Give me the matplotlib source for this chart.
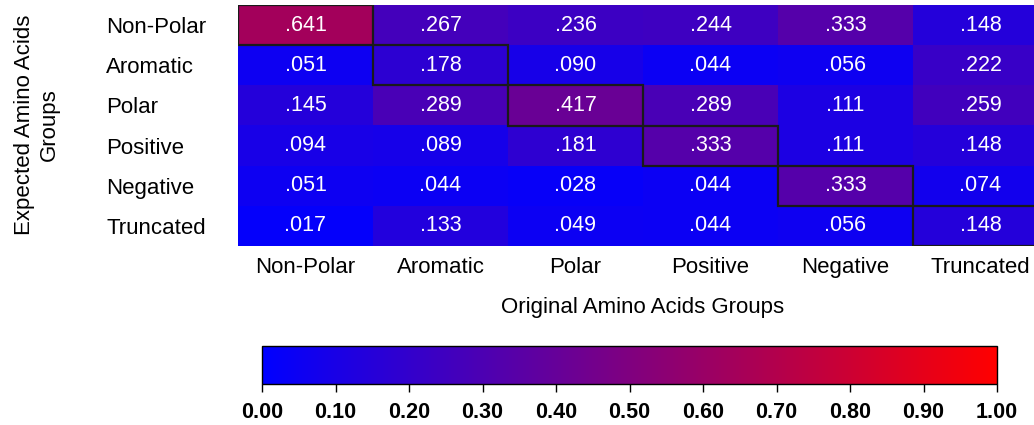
import numpy as np
import matplotlib
matplotlib.use("Agg")
import matplotlib.pyplot as plt
from matplotlib.colors import LinearSegmentedColormap
from matplotlib.patches import Rectangle

plt.rcParams['font.family'] = ['Liberation Sans', 'DejaVu Sans']

expected = ["Non-Polar", "Aromatic", "Polar", "Positive", "Negative", "Truncated"]
original = ["Non-Polar", "Aromatic", "Polar", "Positive", "Negative", "Truncated"]
values = np.array([
    [0.641, 0.267, 0.236, 0.244, 0.333, 0.148],
    [0.051, 0.178, 0.090, 0.044, 0.056, 0.222],
    [0.145, 0.289, 0.417, 0.289, 0.111, 0.259],
    [0.094, 0.089, 0.181, 0.333, 0.111, 0.148],
    [0.051, 0.044, 0.028, 0.044, 0.333, 0.074],
    [0.017, 0.133, 0.049, 0.044, 0.056, 0.148],
])
cbar_ticks = [0.0, 0.1, 0.2, 0.3, 0.4, 0.5, 0.6, 0.7, 0.8, 0.9, 1.0]

cmap = LinearSegmentedColormap.from_list("br", [(0, 0, 1), (1, 0, 0)])

W, H = 1034, 425
fig = plt.figure(figsize=(W / 100, H / 100), dpi=100)

def box(l, t, r, b):
    return [l / W, 1 - b / H, (r - l) / W, (b - t) / H]

AXL, AXT, AXR, AXB = 238, 5, 1048, 246
ax = fig.add_axes(box(AXL, AXT, AXR, AXB))
im = ax.imshow(values, cmap=cmap, vmin=0, vmax=1, aspect='auto')
for s in ax.spines.values():
    s.set_visible(False)

n = len(expected)
for i in range(n):
    for j in range(len(original)):
        txt = ("%.3f" % values[i, j])[1:]
        ax.text(j, i, txt, ha='center', va='center', color='white', fontsize=15.5)
    ax.add_patch(Rectangle((i - 0.5, i - 0.5), 1, 1, fill=False, edgecolor='#1a1a1a', lw=1.6, zorder=5))

ax.set_xticks(range(len(original)))
ax.set_xticklabels(original, fontsize=16, va='baseline')
ax.set_yticks(range(n))
ax.set_yticklabels(expected, fontsize=16, ha='left')
ax.tick_params(axis='y', length=0, pad=95)
ax.tick_params(axis='x', length=0, pad=19.5)
ax.set_xlabel("Original Amino Acids Groups", fontsize=16, va='baseline')
ax.xaxis.set_label_coords(0.5, (AXB - 313) / (AXB - AXT))
ax.set_ylabel("Expected Amino Acids\nGroups", fontsize=16, va='center', ha='center')
ax.yaxis.set_label_coords((37 - AXL) / (AXR - AXL), (AXB - 125) / (AXB - AXT))

cax = fig.add_axes(box(262, 346, 997, 384))
cb = fig.colorbar(im, cax=cax, orientation='horizontal', ticks=cbar_ticks)
cb.set_ticklabels(["%.2f" % t for t in cbar_ticks])
cax.tick_params(length=6, width=1, labelsize=15.5, pad=7)
for lab in cax.get_xticklabels():
    lab.set_fontweight('bold')
cb.outline.set_linewidth(1)

fig.savefig("out.png", dpi=100)
